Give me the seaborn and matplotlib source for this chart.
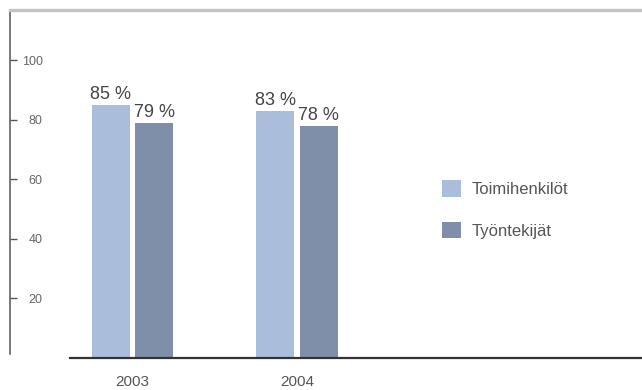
import matplotlib
matplotlib.use("Agg")
import matplotlib.pyplot as plt
import seaborn as sns
import pandas as pd

# Osuudet vuosittain (%)
vuodet = ["2003", "2004"]
toimihenkilot = [85, 83]
tyontekijat = [79, 78]
ryhmat = ["Toimihenkilöt", "Työntekijät"]
y_ticks = [20, 40, 60, 80, 100]

df = pd.DataFrame({
    "vuosi": vuodet * 2,
    "osuus": toimihenkilot + tyontekijat,
    "ryhmä": [ryhmat[0]] * len(vuodet) + [ryhmat[1]] * len(vuodet),
})

sns.set_theme(style="white")
plt.rcParams["font.family"] = ["Liberation Sans", "DejaVu Sans"]

W, H = 642, 390
fig = plt.figure(figsize=(W / 100, H / 100), dpi=100)
# axes: left edge x=10px, right edge 642px, top y=10px, bottom y=358px
ax = fig.add_axes([10 / W, 1 - 358 / H, 632 / W, 348 / H])

sns.barplot(data=df, x="vuosi", y="osuus", hue="ryhmä",
            palette=["#aabedb", "#808fa9"], saturation=1,
            width=0.53, gap=0.13, linewidth=0, ax=ax)

for cont, vals in zip(ax.containers, [toimihenkilot, tyontekijat]):
    ax.bar_label(cont, labels=[f"{v} %" for v in vals], padding=1,
                 fontsize=13, color="#444444")

ax.set_ylim(0, 116.8)
ax.set_xlim(-0.745, 3.097)
ax.set_xlabel("")
ax.set_ylabel("")

ax.set_yticks(y_ticks)
ax.set_yticklabels([str(t) for t in y_ticks])
ax.tick_params(axis="y", direction="in", length=5, width=1, color="#555555",
               left=True, pad=-23.5, labelsize=9, labelcolor="#666666")
ax.tick_params(axis="x", length=0, pad=12, labelsize=11, labelcolor="#555555")

for side in ["left", "top", "bottom"]:
    ax.spines[side].set_visible(True)
ax.spines["right"].set_visible(False)
ax.spines["left"].set_color("#555555")
ax.spines["left"].set_linewidth(1.1)
ax.spines["left"].set_bounds(1.5, 116.8)
ax.spines["top"].set_color("#c4c4c4")
ax.spines["top"].set_linewidth(2.4)
ax.spines["bottom"].set_color("#333333")
ax.spines["bottom"].set_linewidth(1.6)
ax.spines["bottom"].set_bounds(-0.38, 3.097)

handles, labels = ax.get_legend_handles_labels()
ax.legend(handles, labels, loc="upper left",
          bbox_to_anchor=(442 / W, 1 - 180 / H), bbox_transform=fig.transFigure,
          frameon=False, fontsize=12, handlelength=1.15, handleheight=1.15,
          handletextpad=0.6, labelspacing=1.48, borderpad=0, borderaxespad=0,
          labelcolor="#555555")

fig.savefig("out.png", dpi=100)
